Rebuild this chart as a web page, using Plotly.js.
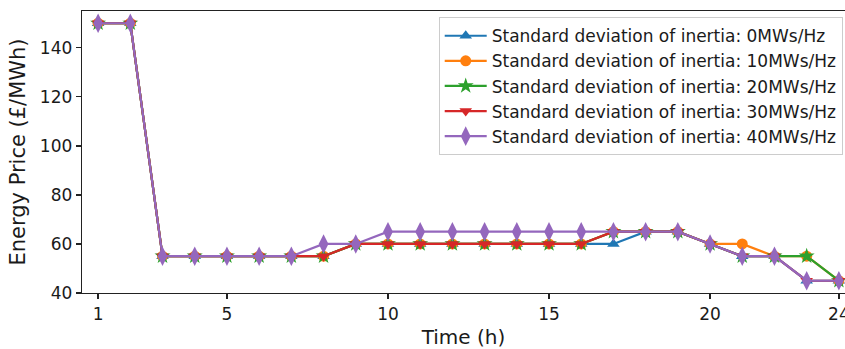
<!DOCTYPE html>
<html>
<head>
<meta charset="utf-8">
<script src="https://cdn.plot.ly/plotly-3.0.1.min.js"></script>
<style>html,body{margin:0;padding:0;background:#fff;}#chart{width:845px;height:349px;}</style>
</head>
<body>
<div id="chart"></div>
<script>
const hours = [1,2,3,4,5,6,7,8,9,10,11,12,13,14,15,16,17,18,19,20,21,22,23,24];
const price0  = [150,150,55,55,55,55,55,55,60,60,60,60,60,60,60,60,60,65,65,60,55,55,45,45];
const price10 = [150,150,55,55,55,55,55,55,60,60,60,60,60,60,60,60,65,65,65,60,60,55,55,45];
const price20 = [150,150,55,55,55,55,55,55,60,60,60,60,60,60,60,60,65,65,65,60,55,55,55,45];
const price30 = [150,150,55,55,55,55,55,55,60,60,60,60,60,60,60,60,65,65,65,60,55,55,45,45];
const price40 = [150,150,55,55,55,55,55,60,60,65,65,65,65,65,65,65,65,65,65,60,55,55,45,45];
const seriesNames = [
  "Standard deviation of inertia: 0MWs/Hz",
  "Standard deviation of inertia: 10MWs/Hz",
  "Standard deviation of inertia: 20MWs/Hz",
  "Standard deviation of inertia: 30MWs/Hz",
  "Standard deviation of inertia: 40MWs/Hz"
];
const xTicks = [1,5,10,15,20,24];
const yTicks = [40,60,80,100,120,140];

const allSeries = [price0, price10, price20, price30, price40];
const colors = ["#1f77b4","#ff7f0e","#2ca02c","#d62728","#9467bd"];
const symbols = ["triangle-up","circle","star","triangle-down","diamond-tall"];
const sizes = [11,11,12,11,14];

const traces = allSeries.map((ys,i)=>({
  x: hours, y: ys, type:"scatter", mode:"lines+markers",
  name: seriesNames[i], legendgroup: "g"+i,
  line:{color:colors[i], width:2.2},
  marker:{color:colors[i], symbol:symbols[i], size:sizes[i], line:{width:0}}
}));

const FAM = "DejaVu Sans, sans-serif";
const TXT = "#1a1a1a";
const layout = {
  width:845, height:349,
  margin:{l:82, r:0, t:11, b:56},
  paper_bgcolor:"#fff", plot_bgcolor:"#fff",
  font:{family:FAM, size:17, color:TXT},
  showlegend:true,
  legend:{
    x:0.997, xanchor:"right", y:0.978, yanchor:"top",
    bgcolor:"rgba(255,255,255,0.8)", bordercolor:"#cccccc", borderwidth:1,
    font:{family:FAM, size:17, color:TXT},
    traceorder:"grouped", tracegroupgap:0, itemwidth:42
  },
  xaxis:{
    range:[0.5, 24.19], tickvals:xTicks, ticktext:xTicks.map(String),
    showgrid:false, zeroline:false,
    showline:true, linecolor:"#222", linewidth:1.3, mirror:true,
    ticks:"outside", ticklen:5, tickwidth:1.3, tickcolor:"#222",
    ticklabeloverflow:"allow",
    tickfont:{family:FAM, size:17, color:TXT},
    title:{text:"Time (h)", font:{family:FAM, size:20, color:TXT}, standoff:7}
  },
  yaxis:{
    range:[40, 155], tickvals:yTicks, ticktext:yTicks.map(String),
    showgrid:false, zeroline:false,
    showline:true, linecolor:"#222", linewidth:1.3, mirror:false,
    ticks:"outside", ticklen:5, tickwidth:1.3, tickcolor:"#222",
    tickfont:{family:FAM, size:17, color:TXT},
    title:{text:"Energy Price (£/MWh)", font:{family:FAM, size:21, color:TXT}, standoff:8}
  }
};
Plotly.newPlot("chart", traces, layout, {displayModeBar:false, staticPlot:true});
</script>
</body>
</html>
